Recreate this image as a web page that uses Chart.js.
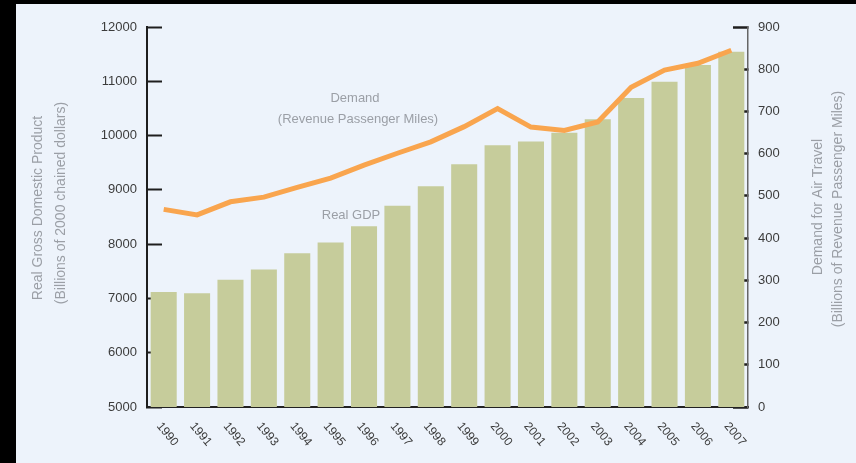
<!DOCTYPE html>
<html>
<head>
<meta charset="utf-8">
<script src="https://cdn.jsdelivr.net/npm/chart.js@4"></script>
<style>
  html, body { margin: 0; padding: 0; background: #000; }
  #wrap { position: absolute; left: 16px; top: 4px; width: 840px; height: 459px; background: #edf3fb; }
</style>
</head>
<body>
<div id="wrap"><canvas id="chart"></canvas></div>
<script>
const years = ['1990', '1991', '1992', '1993', '1994', '1995', '1996', '1997', '1998',
    '1999', '2000', '2001', '2002', '2003', '2004', '2005', '2006', '2007'];
const gdp = [7120, 7095, 7345, 7535, 7830, 8030, 8330, 8705, 9065,
    9470, 9820, 9890, 10050, 10300, 10690, 10990, 11300, 11545];
const demand = [468, 455, 486, 497, 520, 542, 573, 601, 628,
    664, 707, 663, 655, 675, 757, 798, 814, 845];
const gdpTicks = { min: 5000, max: 12000, step: 1000 };
const demandTicks = { min: 0, max: 900, step: 100 };

const grayText = '#9b9fa6';
const tickText = '#3c3c3c';

// axis titles, labels on the curves and rotated year labels
const textPlugin = {
    id: 'texts',
    afterDraw(chart) {
        const ctx = chart.ctx;
        const x = chart.scales.x;
        ctx.save();
        ctx.fillStyle = tickText;
        ctx.font = '12px "Liberation Sans", Arial, sans-serif';
        ctx.textAlign = 'left';
        ctx.textBaseline = 'middle';
        years.forEach((y, i) => {
            const px = x.getPixelForValue(i);
            ctx.save();
            ctx.translate(px - 5, chart.chartArea.bottom + 17);
            ctx.rotate(50 * Math.PI / 180);
            ctx.fillText(y, 0, 0);
            ctx.restore();
        });

        ctx.fillStyle = grayText;
        ctx.font = '13px "Liberation Sans", Arial, sans-serif';
        ctx.textAlign = 'center';
        ctx.fillText('Demand', 339, 94);
        ctx.fillText('(Revenue Passenger Miles)', 342, 115);
        ctx.fillText('Real GDP', 335, 211);

        const vtext = (txt, cx, cy) => {
            ctx.save();
            ctx.translate(cx, cy);
            ctx.rotate(-Math.PI / 2);
            ctx.fillText(txt, 0, 0);
            ctx.restore();
        };
        ctx.font = '14px "Liberation Sans", Arial, sans-serif';
        vtext('Real Gross Domestic Product', 22, 204);
        vtext('(Billions of 2000 chained dollars)', 45, 199);
        vtext('Demand for Air Travel', 802, 203);
        vtext('(Billions of Revenue Passenger Miles)', 822, 205);
        ctx.restore();
    }
};

const ctx = document.getElementById('chart');

function fixSide(width) {
    return function (s) {
        s.width = width;
        s.paddingTop = 7;
        s.paddingBottom = 7;
    };
}

new Chart(ctx, {
    data: {
        labels: years,
        datasets: [{
            type: 'line',
            label: 'Demand',
            data: demand,
            yAxisID: 'y1',
            borderColor: '#f9a54e',
            borderWidth: 5,
            pointRadius: 0,
            tension: 0,
            order: 0
        }, {
            type: 'bar',
            label: 'Real GDP',
            data: gdp,
            yAxisID: 'y',
            backgroundColor: '#c6cc9b',
            barPercentage: 0.78,
            categoryPercentage: 1,
            order: 1
        }]
    },
    options: {
        responsive: true,
        maintainAspectRatio: false,
        animation: false,
        layout: { padding: { top: 23, left: 0, right: 0, bottom: 0 } },
        plugins: {
            legend: { display: false },
            tooltip: { enabled: false }
        },
        scales: {
            x: {
                offset: true,
                grid: { display: true, drawOnChartArea: false, drawTicks: false },
                border: { display: true, color: '#222', width: 2 },
                ticks: { display: false },
                afterFit(s) { s.height = 56; }
            },
            y: {
                position: 'left',
                min: gdpTicks.min,
                max: gdpTicks.max,
                ticks: {
                    stepSize: gdpTicks.step,
                    padding: 25,
                    color: tickText,
                    font: { family: '"Liberation Sans", Arial, sans-serif', size: 13 },
                    callback: v => String(v)
                },
                grid: { drawOnChartArea: false, tickLength: -15, tickWidth: 2, tickColor: '#1e1e1e' },
                border: { display: true, color: '#1e1e1e', width: 2 },
                afterFit: fixSide(131)
            },
            y1: {
                position: 'right',
                min: demandTicks.min,
                max: demandTicks.max,
                ticks: {
                    stepSize: demandTicks.step,
                    padding: 25,
                    color: tickText,
                    font: { family: '"Liberation Sans", Arial, sans-serif', size: 13 },
                    callback: v => String(v)
                },
                grid: { drawOnChartArea: false, tickLength: -15, tickWidth: 2.5, tickColor: '#1e1e1e' },
                border: { display: true, color: '#666', width: 1.5 },
                afterFit: fixSide(108)
            }
        }
    },
    plugins: [textPlugin]
});
</script>
</body>
</html>
